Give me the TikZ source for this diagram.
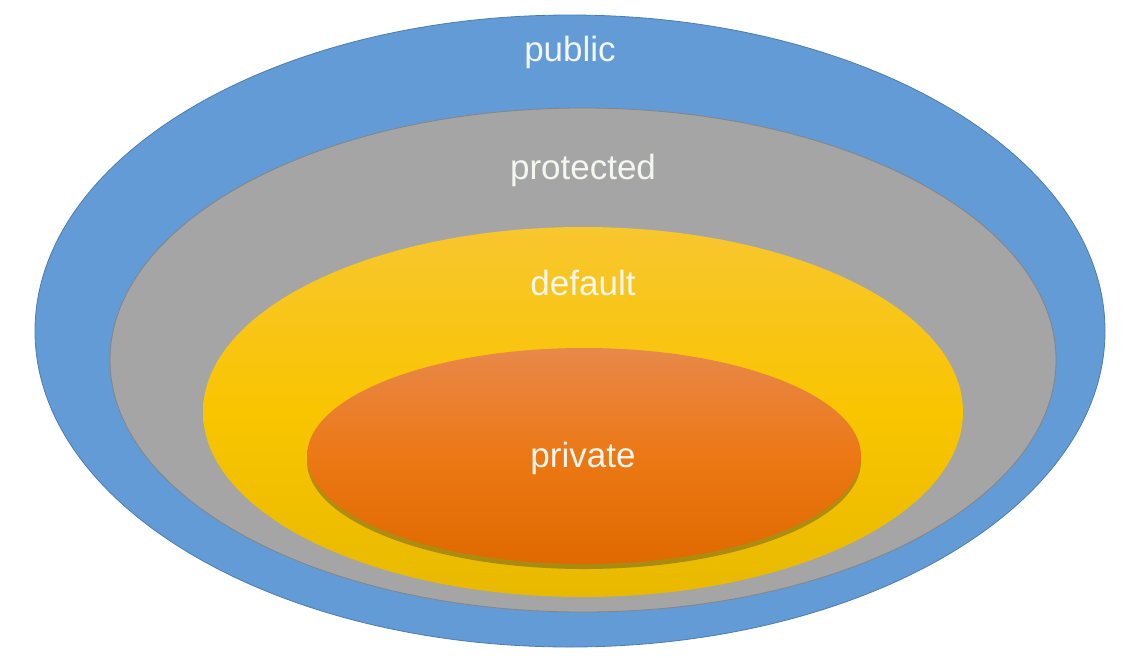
\documentclass[tikz,border=0pt]{standalone}
\usepackage{fontspec}
\setmainfont{Liberation Sans}
\usetikzlibrary{shapes.geometric,shadows}
\definecolor{publicblue}{HTML}{629BD5}
\definecolor{publicedge}{HTML}{4D7DAE}
\definecolor{protgray}{HTML}{A5A5A5}
\definecolor{protedge}{HTML}{858585}
\definecolor{deftop}{HTML}{F8C62E}
\definecolor{defmid}{HTML}{F9C500}
\definecolor{defbot}{HTML}{E8B900}
\definecolor{privtop}{HTML}{E8884A}
\definecolor{privmid}{HTML}{EC7815}
\definecolor{privbot}{HTML}{E06A00}
\definecolor{labelwhite}{HTML}{F4F6F0}
\tikzset{
  ring/.style={shape=ellipse,inner sep=0pt,outer sep=0pt},
  scopelabel/.style={text=labelwhite,font=\fontsize{35}{40}\selectfont,inner sep=0pt}
}

\begin{document}
\begin{tikzpicture}[x=1pt,y=-1pt]
\useasboundingbox (0,0) rectangle (1140,657);
\path node (public) at (570,331) [ring,fill=publicblue,draw=publicedge,line width=0.8pt,minimum width=1070pt,minimum height=632pt] {}
      node (protected) at (583,360) [ring,fill=protgray,draw=protedge,line width=0.8pt,minimum width=946pt,minimum height=504pt] {}
      node (default) at (583,412) [ring,top color=deftop,bottom color=defbot,middle color=defmid,minimum width=760pt,minimum height=370pt] {}
      node (private) at (584,456) [ring,top color=privtop,bottom color=privbot,middle color=privmid,minimum width=554pt,minimum height=216pt,
                                   drop shadow={shadow xshift=0pt,shadow yshift=-5pt,opacity=0.35,fill=black!80}] {};
% labels
\node [scopelabel] (publiclabel) at (570,52) {public};
\node [scopelabel] (protectedlabel) at (583,170) {protected};
\node [scopelabel] (defaultlabel) at (583,283) {default};
\node [scopelabel] (privatelabel) at (583,458) {private};
\end{tikzpicture}
\end{document}
